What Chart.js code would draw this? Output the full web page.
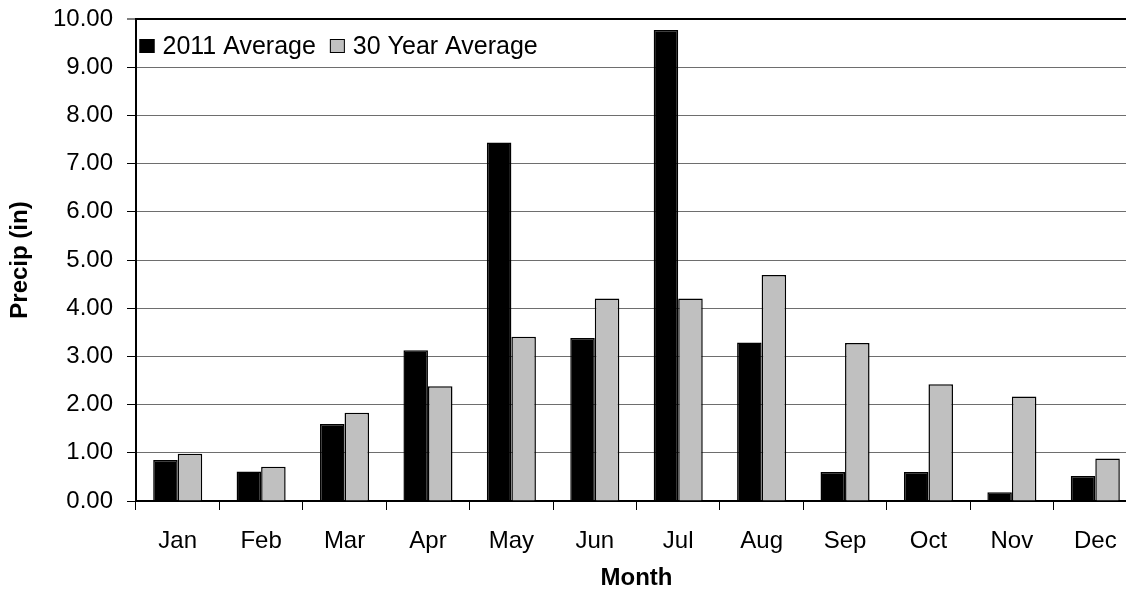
<!DOCTYPE html>
<html>
<head>
<meta charset="utf-8">
<title>Monthly Precipitation</title>
<script src="https://cdn.jsdelivr.net/npm/chart.js@4.4.1/dist/chart.umd.min.js"></script>
<style>
  html, body { margin: 0; padding: 0; background: #ffffff; overflow: hidden; }
  #wrap { position: absolute; left: 0; top: 0; width: 1140px; height: 590px; }
</style>
</head>
<body>
<div id="wrap"><canvas id="chart"></canvas></div>
<script>
// Monthly precipitation, inches
const months = ['Jan', 'Feb', 'Mar', 'Apr', 'May', 'Jun', 'Jul', 'Aug', 'Sep', 'Oct', 'Nov', 'Dec'];
const avg2011 = [0.85, 0.61, 1.60, 3.13, 7.44, 3.38, 9.77, 3.29, 0.60, 0.60, 0.18, 0.52];
const avg30yr = [0.98, 0.71, 1.83, 2.38, 3.41, 4.20, 4.20, 4.69, 3.28, 2.42, 2.17, 0.88];
const seriesNames = ['2011 Average', '30 Year Average'];
const yTicks = [0, 1, 2, 3, 4, 5, 6, 7, 8, 9, 10];

const FONT = "'Liberation Sans', Arial, Helvetica, sans-serif";

// Legend drawn inside the plot area, top-left corner
const insideLegend = {
  id: 'insideLegend',
  afterDraw(chart) {
    const { ctx, chartArea } = chart;
    ctx.save();
    ctx.font = '25px ' + FONT;
    ctx.textBaseline = 'middle';
    ctx.textAlign = 'left';
    let x = chartArea.left + 3.5;
    const cy = chartArea.top + 27;
    chart.data.datasets.forEach((ds) => {
      ctx.fillStyle = ds.backgroundColor;
      ctx.fillRect(x, cy - 7, 15, 14);
      ctx.strokeStyle = '#000';
      ctx.lineWidth = 1;
      ctx.strokeRect(x + 0.5, cy - 6.5, 14, 13);
      x += 15 + 8;
      ctx.fillStyle = '#000';
      ctx.fillText(ds.label, x, cy + 1);
      x += ctx.measureText(ds.label).width + 14;
    });
    ctx.restore();
  }
};

new Chart(document.getElementById('chart'), {
  type: 'bar',
  data: {
    labels: months,
    datasets: [
      { label: seriesNames[0], data: avg2011, backgroundColor: '#000000', borderColor: '#000000', borderWidth: 1.5 },
      { label: seriesNames[1], data: avg30yr, backgroundColor: '#c0c0c0', borderColor: '#000000', borderWidth: 1.5 }
    ]
  },
  options: {
    responsive: true,
    maintainAspectRatio: false,
    devicePixelRatio: 1,
    animation: false,
    layout: { padding: { left: 0, top: 19, right: 3, bottom: 0 } },
    datasets: { bar: { categoryPercentage: 0.588, barPercentage: 1.0 } },
    plugins: {
      legend: { display: false },
      tooltip: { enabled: false }
    },
    scales: {
      x: {
        grid: {
          display: true,
          drawOnChartArea: false,
          drawTicks: true,
          tickLength: 9,
          tickColor: '#000',
          tickWidth: 1,
          offset: true
        },
        border: { display: true, color: '#000', width: 2 },
        ticks: { color: '#000', font: { family: FONT, size: 24 }, padding: 17, maxRotation: 0 },
        title: { display: true, text: 'Month', color: '#000', font: { family: FONT, size: 24, weight: 'bold' }, padding: { top: 0, bottom: -3 } },
        afterFit(scale) {
          scale.height = 89;
          scale.paddingLeft = 0;
          scale.paddingRight = 0;
        }
      },
      y: {
        min: yTicks[0],
        max: yTicks[yTicks.length - 1],
        afterBuildTicks(scale) { scale.ticks = yTicks.map(v => ({ value: v })); },
        grid: {
          color: ctx => (ctx.tick && ctx.tick.value === 10 ? '#000' : '#6e6e6e'),
          lineWidth: ctx => (ctx.tick && ctx.tick.value === 10 ? 2 : 1),
          drawTicks: true,
          tickLength: 9,
          tickColor: '#000',
          tickWidth: 1
        },
        border: { display: true, color: '#000', width: 2 },
        ticks: {
          color: '#000',
          font: { family: FONT, size: 24 },
          padding: 14,
          callback: v => Number(v).toFixed(2)
        },
        title: { display: true, text: 'Precip (in)', color: '#000', font: { family: FONT, size: 24, weight: 'bold' }, padding: { top: 6, bottom: 0 } },
        afterFit(scale) {
          scale.width = 136;
          scale.paddingTop = 0;
          scale.paddingBottom = 0;
        }
      }
    }
  },
  plugins: [insideLegend]
});
</script>
</body>
</html>
